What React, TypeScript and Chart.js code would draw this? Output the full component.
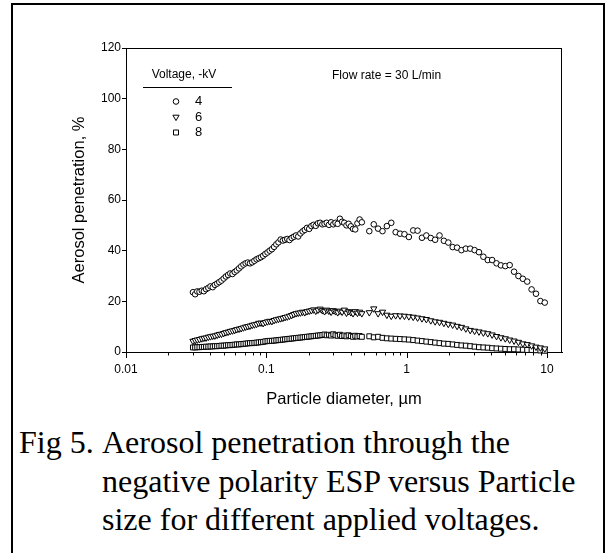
import React, { useEffect, useRef } from 'react';
import { Chart, registerables } from 'chart.js';

Chart.register(...registerables);

// Particle diameters (µm): SMPS channels then APS channels
const diameters = [
  0.0300, 0.0311, 0.0322, 0.0334, 0.0347, 0.0359, 0.0372, 0.0386, 0.0400, 0.0415,
  0.0430, 0.0446, 0.0462, 0.0479, 0.0497, 0.0515, 0.0534, 0.0553, 0.0574, 0.0595,
  0.0616, 0.0639, 0.0662, 0.0687, 0.0712, 0.0738, 0.0765, 0.0793, 0.0822, 0.0852,
  0.0883, 0.0916, 0.0949, 0.0984, 0.1020, 0.1057, 0.1096, 0.1136, 0.1178, 0.1221,
  0.1266, 0.1312, 0.1360, 0.1410, 0.1462, 0.1515, 0.1571, 0.1628, 0.1688, 0.1750,
  0.1814, 0.1880, 0.1949, 0.2021, 0.2095, 0.2172, 0.2251, 0.2334, 0.2419, 0.2508,
  0.2600, 0.2695, 0.2794, 0.2896, 0.3002, 0.3112, 0.3226, 0.3344, 0.3467, 0.3594,
  0.3726, 0.3862, 0.4004, 0.4150, 0.4302, 0.4460, 0.4623, 0.4793,
  0.542, 0.583, 0.626, 0.673, 0.723, 0.777, 0.835, 0.898, 0.965, 1.037,
  1.114, 1.197, 1.286, 1.382, 1.486, 1.596, 1.715, 1.843, 1.981, 2.129,
  2.288, 2.458, 2.642, 2.839, 3.051, 3.278, 3.523, 3.786, 4.068, 4.371,
  4.698, 5.048, 5.425, 5.829, 6.264, 6.732, 7.234, 7.774, 8.354, 8.977, 9.647,
];

// Aerosol penetration (%) at -4 kV
const penetration4kV = [
  23.6, 22.8, 23.9, 23.8, 24.2, 24.0, 24.8, 25.3, 25.9, 25.6,
  26.5, 27.0, 27.6, 28.2, 29.0, 29.8, 30.4, 31.0, 30.8, 31.6,
  32.2, 33.0, 33.8, 34.5, 35.0, 35.3, 35.0, 35.4, 36.0, 36.6,
  37.0, 37.4, 38.0, 38.7, 39.3, 40.0, 40.6, 41.5, 42.5, 43.3,
  44.4, 44.0, 44.3, 44.6, 44.2, 45.0, 45.5, 46.0, 45.6, 46.8,
  47.6, 48.2, 49.0, 48.6, 49.7, 50.2, 49.8, 50.8, 51.0, 50.4,
  50.6, 51.0, 50.2, 51.2, 50.4, 51.0, 50.6, 52.6, 51.4, 51.0,
  50.0, 50.6, 49.6, 48.6, 48.4, 50.8, 52.3, 51.2,
  47.7, 50.4, 48.7, 47.7, 49.7, 51.0, 47.3, 46.7, 46.5, 45.4,
  48.0, 47.9, 45.1, 46.0, 45.0, 44.3, 46.0, 43.9, 43.2, 41.4,
  41.2, 40.2, 40.8, 40.8, 40.2, 39.4, 37.6, 36.3, 36.3, 35.0,
  34.2, 33.9, 34.3, 31.7, 30.0, 28.9, 27.8, 24.7, 23.0, 20.1, 19.5,
];

// Aerosol penetration (%) at -6 kV
const penetration6kV = [
  4.3, 4.6, 4.8, 5.0, 5.3, 5.5, 5.6, 5.9, 6.1, 6.3,
  6.4, 6.7, 7.0, 7.1, 7.4, 7.7, 7.9, 8.2, 8.4, 8.6,
  8.9, 9.1, 9.3, 9.6, 9.9, 10.1, 10.3, 10.6, 10.8, 11.0,
  11.4, 11.5, 11.3, 11.7, 12.0, 12.2, 12.1, 12.5, 12.8, 13.0,
  13.2, 13.4, 13.7, 13.9, 14.2, 14.5, 14.9, 15.2, 15.4, 15.5,
  15.8, 15.6, 16.0, 16.2, 16.4, 16.7, 16.2, 16.6, 17.0, 16.4,
  16.0, 16.6, 16.2, 15.8, 16.4, 16.0, 15.6, 16.2, 15.8, 16.6,
  15.4, 16.0, 15.6, 15.2, 16.0, 15.4, 15.8, 15.2,
  15.6, 17.1, 15.2, 15.8, 14.6, 14.2, 14.4, 14.3, 14.2, 14.0,
  13.8, 13.5, 13.2, 12.9, 12.4, 12.0, 11.8, 11.4, 11.0, 10.7,
  10.2, 9.8, 9.2, 8.6, 8.3, 8.0, 7.6, 7.3, 6.8, 6.2,
  5.7, 5.3, 4.8, 4.4, 3.9, 3.3, 3.0, 2.5, 2.0, 1.7, 1.3,
];

// Aerosol penetration (%) at -8 kV
const penetration8kV = [
  1.8, 1.8, 1.9, 1.9, 2.0, 2.0, 2.1, 2.1, 2.2, 2.2,
  2.3, 2.3, 2.4, 2.5, 2.5, 2.6, 2.7, 2.7, 2.8, 2.9,
  3.0, 3.0, 3.1, 3.2, 3.3, 3.4, 3.5, 3.5, 3.6, 3.7,
  3.8, 3.9, 4.0, 4.2, 4.3, 4.4, 4.4, 4.5, 4.6, 4.7,
  4.8, 4.9, 5.0, 5.1, 5.2, 5.3, 5.4, 5.5, 5.6, 5.7,
  5.8, 5.9, 6.0, 6.1, 6.2, 6.3, 6.4, 6.5, 6.6, 6.7,
  6.9, 6.6, 6.8, 6.5, 7.0, 6.6, 6.4, 6.8, 6.3, 6.5,
  6.2, 6.6, 6.3, 6.0, 6.4, 6.1, 6.3, 6.0,
  6.2, 5.8, 6.0, 5.6, 5.4, 5.3, 5.2, 5.1, 5.0, 4.9,
  4.7, 4.5, 4.3, 4.1, 3.9, 3.7, 3.5, 3.3, 3.2, 3.0,
  2.8, 2.6, 2.5, 2.3, 2.1, 1.9, 1.8, 1.7, 1.5, 1.4,
  1.3, 1.2, 1.1, 1.1, 1.0, 0.9, 0.8, 0.8, 0.7, 0.6, 0.5,
];

const voltageLabels = ['4', '6', '8'];
const xMajorTicks = [0.01, 0.1, 1, 10];
const xTickLabels = ['0.01', '0.1', '1', '10'];
const xMinorMultipliers = [2, 3, 4, 5, 6, 7, 8, 9];
const yTickValues = [0, 20, 40, 60, 80, 100, 120];

const legendTitle = 'Voltage, -kV';
const annotationText = 'Flow rate = 30 L/min';
const xTitle = 'Particle diameter, \u00b5m';
const yTitle = 'Aerosol penetration, %';
const captionLead = 'Fig 5.';
const captionLines = [
  'Aerosol penetration through the',
  'negative polarity ESP versus Particle',
  'size for different applied voltages.',
];

const SANS = "'Liberation Sans', Arial, sans-serif";
const SERIF = "'Liberation Serif', 'Times New Roman', serif";

function drawMarker(ctx: CanvasRenderingContext2D, style: string, x: number, y: number) {
  ctx.beginPath();
  if (style === 'circle') {
    ctx.arc(x, y, 2.8, 0, Math.PI * 2);
  } else if (style === 'triangle') {
    const r = 3.6;
    ctx.moveTo(x - r * Math.sin(Math.PI / 3), y - r * 0.5);
    ctx.lineTo(x + r * Math.sin(Math.PI / 3), y - r * 0.5);
    ctx.lineTo(x, y + r);
    ctx.closePath();
  } else {
    const h = 2.5;
    ctx.rect(x - h, y - h, 2 * h, 2 * h);
  }
  ctx.fillStyle = '#fff';
  ctx.fill();
  ctx.stroke();
}

const decorPlugin = {
  id: 'decor',
  afterDraw(chart: any) {
    const { ctx, chartArea: a, scales } = chart;
    const xs = scales.x;
    ctx.save();
    ctx.strokeStyle = '#000';
    ctx.lineWidth = 1;
    // frame top & right
    ctx.beginPath();
    ctx.moveTo(a.left, a.top + 0.5);
    ctx.lineTo(a.right, a.top + 0.5);
    ctx.moveTo(a.right - 0.5, a.top);
    ctx.lineTo(a.right - 0.5, a.bottom);
    ctx.stroke();
    // x ticks (major longer, minor shorter)
    ctx.beginPath();
    xs.ticks.forEach((t: any) => {
      const isMajor = xMajorTicks.includes(t.value);
      const px = Math.round(xs.getPixelForValue(t.value)) + 0.5;
      ctx.moveTo(px, a.bottom);
      ctx.lineTo(px, a.bottom + (isMajor ? 6 : 3.5));
    });
    ctx.stroke();

    // legend
    ctx.fillStyle = '#000';
    ctx.font = `12px ${SANS}`;
    ctx.textBaseline = 'middle';
    ctx.textAlign = 'center';
    ctx.fillText(legendTitle, a.left + 58, 75);
    ctx.beginPath();
    ctx.moveTo(a.left + 17, 87.5);
    ctx.lineTo(a.left + 106, 87.5);
    ctx.stroke();
    const styles = ['circle', 'triangle', 'rect'];
    const rows = [101.5, 117, 132.5];
    ctx.font = `13px ${SANS}`;
    ctx.textAlign = 'left';
    styles.forEach((s, i) => {
      drawMarker(ctx, s, a.left + 50, rows[i]);
      ctx.fillStyle = '#000';
      ctx.fillText(voltageLabels[i], a.left + 69, rows[i]);
    });
    // annotation
    ctx.font = `12px ${SANS}`;
    ctx.textAlign = 'left';
    ctx.fillText(annotationText, a.left + 206, 76);
    ctx.restore();
  },
};

function makePoints(values: number[]) {
  return diameters.map((d, i) => ({ x: d, y: values[i] }));
}

export default function App() {
  const canvasRef = useRef<HTMLCanvasElement | null>(null);

  useEffect(() => {
    const canvas = canvasRef.current;
    if (!canvas) return;
    const common = {
      showLine: false,
      borderColor: '#000',
      backgroundColor: '#fff',
      borderWidth: 1,
      clip: false as any,
    };
    const chart = new Chart(canvas, {
      type: 'scatter',
      data: {
        datasets: [
          { ...common, label: voltageLabels[0], data: makePoints(penetration4kV), pointStyle: 'circle', pointRadius: 2.8 },
          { ...common, label: voltageLabels[1], data: makePoints(penetration6kV), pointStyle: 'triangle', pointRotation: 180, pointRadius: 3.6 },
          { ...common, label: voltageLabels[2], data: makePoints(penetration8kV), pointStyle: 'rect', pointRadius: 3.5 },
        ],
      },
      options: {
        animation: false,
        responsive: false,
        devicePixelRatio: 1,
        layout: { padding: { left: 0, right: 50, top: 48, bottom: 0 } },
        plugins: { legend: { display: false }, tooltip: { enabled: false } },
        scales: {
          x: {
            type: 'logarithmic',
            min: 0.01,
            max: 12.8,
            afterBuildTicks: (scale: any) => {
              const vals: number[] = [];
              xMajorTicks.forEach((m, i) => {
                vals.push(m);
                if (i < xMajorTicks.length - 1) xMinorMultipliers.forEach((k) => vals.push(+(m * k).toPrecision(3)));
              });
              scale.ticks = vals.map((v) => ({ value: v }));
            },
            afterFit: (scale: any) => { scale.height = 68; },
            grid: { display: false, drawTicks: true, tickLength: 6 },
            border: { display: true, color: '#000', width: 1 },
            ticks: {
              autoSkip: false,
              maxRotation: 0,
              padding: 4,
              color: '#000',
              font: { family: SANS, size: 12 },
              callback: (v: any) => {
                const idx = xMajorTicks.indexOf(Number(v));
                return idx >= 0 ? xTickLabels[idx] : '';
              },
            },
            title: {
              display: true,
              text: xTitle,
              color: '#000',
              font: { family: SANS, size: 16.5 },
              padding: { top: 0, bottom: 11 },
            },
          },
          y: {
            type: 'linear',
            min: 0,
            max: 120,
            afterBuildTicks: (scale: any) => { scale.ticks = yTickValues.map((v) => ({ value: v })); },
            afterFit: (scale: any) => { scale.width = 126; },
            grid: { display: true, drawOnChartArea: false, drawTicks: true, tickLength: 4, color: '#000' },
            border: { display: true, color: '#000', width: 1 },
            ticks: {
              padding: 1,
              color: '#000',
              font: { family: SANS, size: 12 },
            },
            title: {
              display: true,
              text: yTitle,
              color: '#000',
              font: { family: SANS, size: 16.5 },
              padding: { top: 70, bottom: 0 },
            },
          },
        },
      },
      plugins: [decorPlugin],
    } as any);
    return () => chart.destroy();
  }, []);

  const capStyle: React.CSSProperties = {
    position: 'absolute',
    fontFamily: SERIF,
    fontSize: 32,
    lineHeight: '32px',
    color: '#000',
    whiteSpace: 'nowrap',
  };

  return (
    <div style={{ position: 'absolute', left: 0, top: 0, width: 612, height: 553, overflow: 'hidden', background: '#fff' }}>
      <div style={{ position: 'absolute', left: 11, top: 3, width: 594, height: 600, border: '2px solid #000', boxSizing: 'border-box' }} />
      <canvas ref={canvasRef} width={612} height={420} style={{ position: 'absolute', left: 0, top: 0 }} />
      <div style={{ ...capStyle, left: 19, top: 426 }}>{captionLead}</div>
      {captionLines.map((line, i) => (
        <div key={i} style={{ ...capStyle, left: 102, top: 426 + i * 38.5 }}>{line}</div>
      ))}
    </div>
  );
}
